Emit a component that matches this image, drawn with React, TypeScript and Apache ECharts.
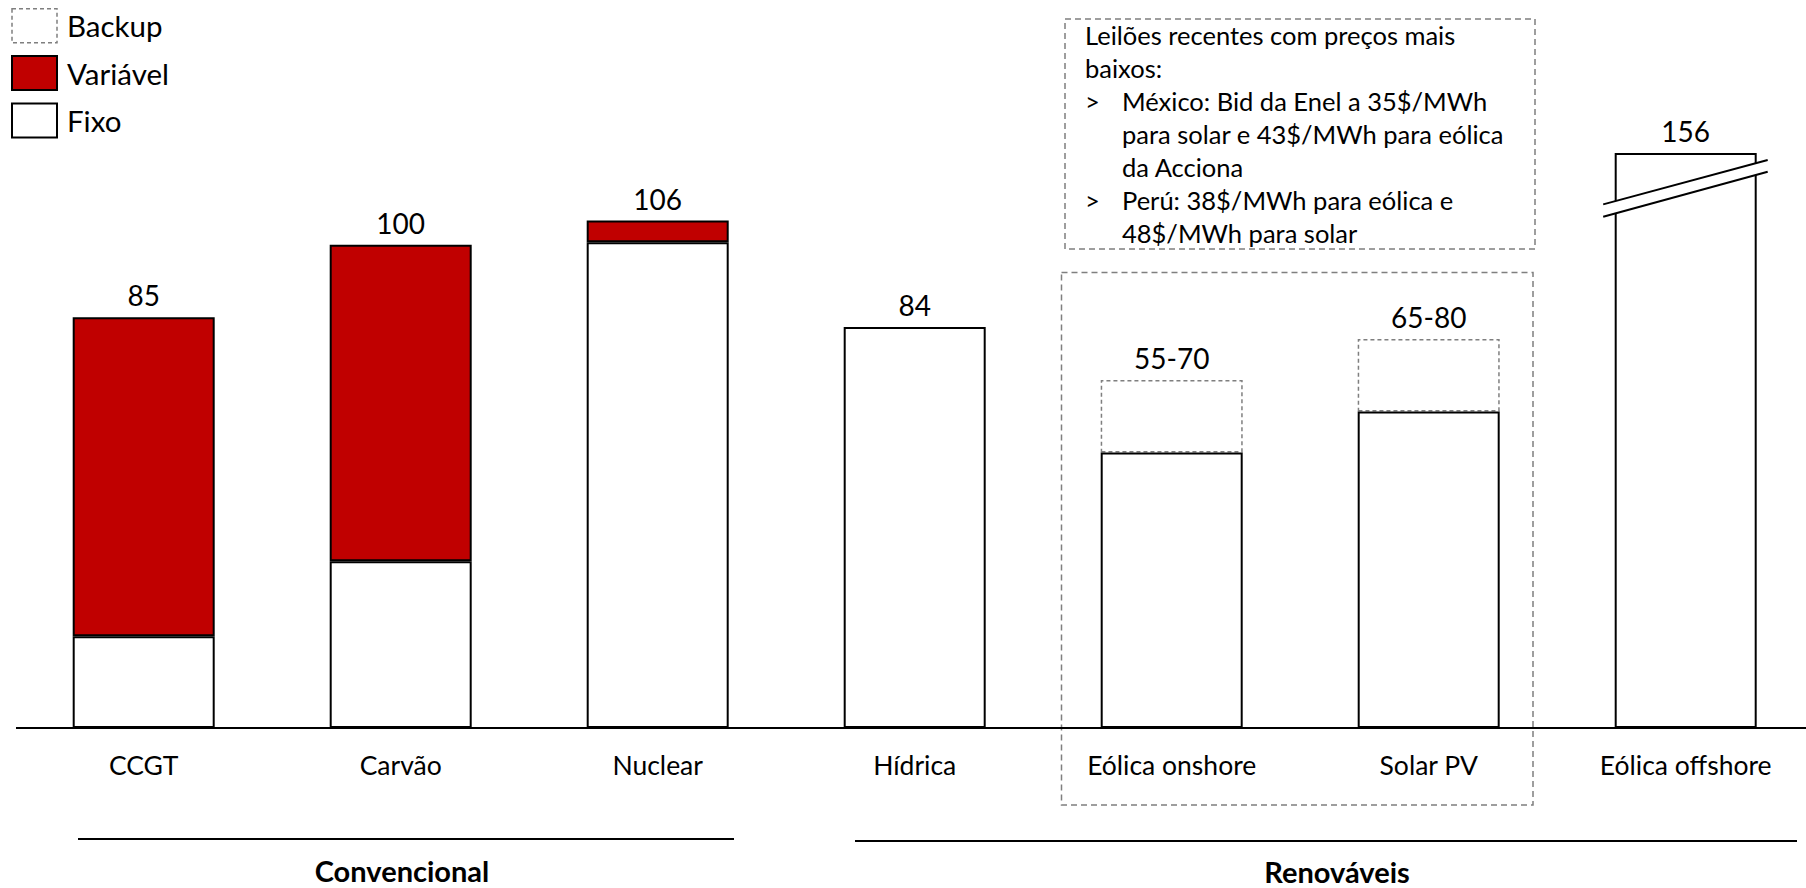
import React, { useEffect, useRef } from "react";
import * as echarts from "echarts";

const categories = ["CCGT", "Carvão", "Nuclear", "Hídrica", "Eólica onshore", "Solar PV", "Eólica offshore"];
const fixoValues = [19, 34.5, 100.5, 83, 57, 65.5, 119];
const variavelValues = [66, 65.5, 4.5, null, null, null, null];
const backupValues = [null, null, null, null, 15, 15, null];
const totalLabels = ["85", "100", "106", "84", "55-70", "65-80", "156"];
const legendNames = ["Backup", "Variável", "Fixo"];
const groupNames = ["Convencional", "Renováveis"];
const noteLines: [string, string][] = [
  ["", "Leilões recentes com preços mais"],
  ["", "baixos:"],
  [">", "México: Bid da Enel a 35$/MWh"],
  [" ", "para solar e 43$/MWh para eólica"],
  [" ", "da Acciona"],
  [">", "Perú: 38$/MWh para eólica e"],
  [" ", "48$/MWh para solar"],
];

const FONT = "Lato, 'Noto Sans', sans-serif";
const RED = "#C00000";
const GRAY = "#7f7f7f";

function topSeries(i: number): string {
  if (backupValues[i] != null) return "Backup";
  if (variavelValues[i] != null) return "Variável";
  return "Fixo";
}

function buildData(values: (number | null)[], name: string) {
  return values.map((v, i) => {
    if (v == null) return "-";
    if (topSeries(i) === name) {
      return {
        value: v,
        label: {
          show: true,
          position: "top",
          distance: 8,
          formatter: totalLabels[i],
          fontSize: 28,
          color: "#000",
          fontFamily: FONT,
        },
      };
    }
    return v;
  });
}

export default function App() {
  const ref = useRef<HTMLDivElement>(null);
  useEffect(() => {
    if (!ref.current) return;
    const chart = echarts.init(ref.current, undefined, { renderer: "svg" });
    const option: any = {
      animation: false,
      backgroundColor: "#fff",
      grid: { left: 143.7, top: 8, width: 1542, height: 720, containLabel: false },
      xAxis: {
        type: "category",
        data: categories,
        boundaryGap: false,
        axisLine: { show: false },
        axisTick: { show: false },
        axisLabel: { fontSize: 26.5, color: "#000", fontFamily: FONT, margin: 23, interval: 0 },
      },
      yAxis: { type: "value", min: 0, max: 149, show: false, splitLine: { show: false } },
      legend: {
        orient: "vertical",
        left: 11,
        top: 8,
        padding: 0,
        itemWidth: 45,
        itemHeight: 34,
        itemGap: 11.5,
        selectedMode: false,
        textStyle: { fontSize: 29.5, lineHeight: 34, height: 34, color: "#000", fontFamily: FONT, padding: [0, 0, 0, 5] },
        data: [
          { name: legendNames[0], icon: "rect", itemStyle: { color: "#fff", borderColor: GRAY, borderWidth: 1.5, borderType: [4, 3] } },
          { name: legendNames[1], icon: "rect", itemStyle: { color: RED, borderColor: "#000", borderWidth: 2 } },
          { name: legendNames[2], icon: "rect", itemStyle: { color: "#fff", borderColor: "#000", borderWidth: 2 } },
        ],
      },
      series: [
        {
          name: "Fixo",
          type: "bar",
          stack: "total",
          barWidth: 142,
          z: 3,
          itemStyle: { color: "#fff", borderColor: "#000", borderWidth: 2 },
          data: buildData(fixoValues, "Fixo"),
        },
        {
          name: "Variável",
          type: "bar",
          stack: "total",
          barWidth: 142,
          z: 3,
          itemStyle: { color: RED, borderColor: "#000", borderWidth: 2 },
          data: buildData(variavelValues, "Variável"),
        },
        {
          name: "Backup",
          type: "bar",
          stack: "total",
          barWidth: 142,
          z: 2,
          itemStyle: { color: "rgba(255,255,255,0)", borderColor: GRAY, borderWidth: 1.5, borderType: [4, 3] },
          data: buildData(backupValues, "Backup"),
        },
      ],
    };
    chart.setOption(option);

    const [, y0] = chart.convertToPixel({ gridIndex: 0 } as any, [0, 0]) as number[];
    // break marker on the offshore bar
    const [cx, cy] = chart.convertToPixel({ gridIndex: 0 } as any, [6, 111.7]) as number[];
    const lx = cx - 82.5;
    const rx = cx + 82;
    const upL = cy + 16.1;
    const upR = cy - 28.2;
    const loL = cy + 28.5;
    const loR = cy - 16.5;

    const noteX = 1085;
    const noteIndent = 1122;
    const noteTop = 35;
    const noteStep = 33;

    const graphics: any[] = [
      { type: "line", z: 50, shape: { x1: 16, y1: y0, x2: 1806, y2: y0 }, style: { stroke: "#000", lineWidth: 2 } },
      {
        type: "polygon",
        z: 100,
        shape: { points: [[lx, upL], [rx, upR], [rx, loR], [lx, loL]] },
        style: { fill: "#fff", stroke: "none" },
      },
      { type: "line", z: 101, shape: { x1: lx, y1: upL, x2: rx, y2: upR }, style: { stroke: "#000", lineWidth: 2 } },
      { type: "line", z: 101, shape: { x1: lx, y1: loL, x2: rx, y2: loR }, style: { stroke: "#000", lineWidth: 2 } },
      // dashed box around onshore / solar
      {
        type: "rect",
        z: 1,
        shape: { x: 1061.5, y: 272.5, width: 471.5, height: 532.5 },
        style: { fill: "none", stroke: GRAY, lineWidth: 1.5, lineDash: [6, 4] },
      },
      // note box
      {
        type: "rect",
        z: 1,
        shape: { x: 1065, y: 19, width: 470, height: 230 },
        style: { fill: "none", stroke: GRAY, lineWidth: 1.5, lineDash: [6, 4] },
      },
      // group lines
      { type: "line", shape: { x1: 78, y1: 839, x2: 734, y2: 839 }, style: { stroke: "#000", lineWidth: 2 } },
      { type: "line", shape: { x1: 855, y1: 841, x2: 1797, y2: 841 }, style: { stroke: "#000", lineWidth: 2 } },
      {
        type: "text",
        x: 402,
        y: 870,
        style: { text: groupNames[0], fontSize: 29, fontWeight: "bold", fontFamily: FONT, fill: "#000", align: "center", verticalAlign: "middle" },
      },
      {
        type: "text",
        x: 1337,
        y: 871,
        style: { text: groupNames[1], fontSize: 29, fontWeight: "bold", fontFamily: FONT, fill: "#000", align: "center", verticalAlign: "middle" },
      },
    ];
    noteLines.forEach(([bullet, text], i) => {
      const y = noteTop + i * noteStep;
      if (bullet === ">") {
        graphics.push({
          type: "text",
          x: noteX,
          y,
          style: { text: ">", fontSize: 25.5, fontFamily: FONT, fill: "#000", verticalAlign: "middle" },
        });
      }
      graphics.push({
        type: "text",
        x: bullet === "" ? noteX : noteIndent,
        y,
        style: { text, fontSize: 25.5, fontFamily: FONT, fill: "#000", verticalAlign: "middle" },
      });
    });
    chart.setOption({ graphic: graphics });

    return () => chart.dispose();
  }, []);
  return <div ref={ref} style={{ position: "absolute", left: 0, top: 0, width: 1806, height: 888 }} />;
}
